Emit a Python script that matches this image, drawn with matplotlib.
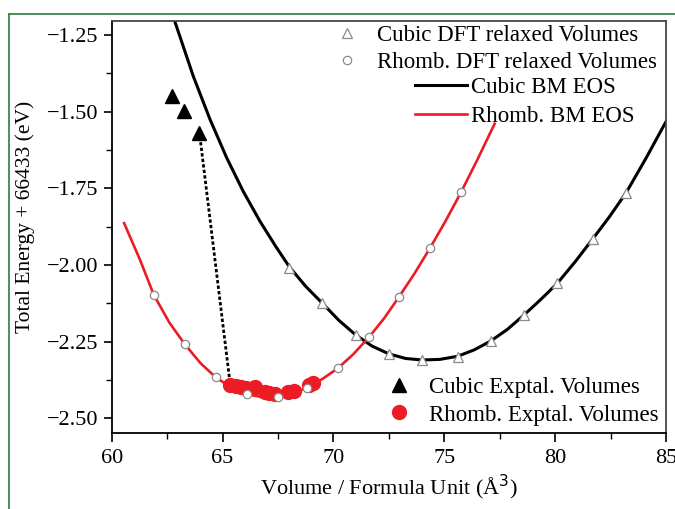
import matplotlib
matplotlib.use("Agg")
import matplotlib.pyplot as plt
from matplotlib.ticker import MultipleLocator, FuncFormatter
from matplotlib.lines import Line2D

plt.rcParams['font.family'] = ['Liberation Serif', 'DejaVu Serif']
plt.rcParams['axes.unicode_minus'] = False

# ---- data ----
cubic_dft_V = [68.0, 69.5, 71.0, 72.5, 74.0, 75.6, 77.1, 78.6, 80.1, 81.7, 83.2]
cubic_dft_E = [-2.011, -2.125, -2.23, -2.29, -2.31, -2.30, -2.248, -2.163, -2.06, -1.915, -1.765]

rhomb_dft_V = [61.9, 63.3, 64.7, 66.1, 67.5, 68.8, 70.2, 71.6, 72.95, 74.35, 75.75]
rhomb_dft_E = [-2.098, -2.259, -2.367, -2.422, -2.431, -2.40, -2.337, -2.236, -2.105, -1.946, -1.764]

cubic_eos_V = [62.85, 63.68, 64.43, 65.18, 65.93, 66.68, 67.4, 68.0, 68.75, 69.5, 70.25,
               71.0, 71.75, 72.5, 73.25, 74.0, 74.8, 75.6, 76.35, 77.1, 77.85, 78.6,
               79.35, 80.1, 80.9, 81.7, 82.45, 83.2, 84.1, 85.0]
cubic_eos_E = [-1.207, -1.385, -1.525, -1.650, -1.760, -1.857, -1.940, -2.005, -2.070,
               -2.125, -2.181, -2.228, -2.265, -2.290, -2.305, -2.310, -2.308, -2.298,
               -2.277, -2.248, -2.210, -2.163, -2.113, -2.060, -1.990, -1.915, -1.843,
               -1.765, -1.652, -1.533]

rhomb_eos_V = [60.56, 61.28, 61.9, 62.6, 63.3, 64.0, 64.7, 65.4, 66.1, 66.8, 67.5, 68.15,
               68.8, 69.5, 70.2, 70.9, 71.6, 72.3, 72.95, 73.65, 74.35, 75.05, 75.75,
               76.5, 77.27]
rhomb_eos_E = [-1.864, -1.984, -2.098, -2.188, -2.259, -2.320, -2.367, -2.400, -2.422,
               -2.431, -2.431, -2.420, -2.400, -2.372, -2.337, -2.291, -2.236, -2.173,
               -2.105, -2.029, -1.946, -1.858, -1.764, -1.656, -1.540]

cubic_exp_V = [62.7, 63.25, 63.95]
cubic_exp_E = [-1.449, -1.498, -1.571]

rhomb_exp_V = [65.35, 65.6, 65.85, 66.05, 66.45, 66.9, 67.1, 67.35, 67.95, 68.2, 68.9, 69.1]
rhomb_exp_E = [-2.392, -2.395, -2.398, -2.402, -2.398, -2.413, -2.418, -2.42, -2.415, -2.41,
               -2.39, -2.384]

link_V = [63.98, 65.33]
link_E = [-1.582, -2.381]

xticks = [60, 65, 70, 75, 80, 85]
yticks = [-2.50, -2.25, -2.00, -1.75, -1.50, -1.25]

W, H = 675, 509
fig = plt.figure(figsize=(W / 100, H / 100), dpi=100)
ax = fig.add_axes([111.7 / W, 1 - 432.7 / H, (666 - 111.7) / W, (432.7 - 21) / H])

red = '#ec1c24'
ax.plot(cubic_eos_V, cubic_eos_E, color='black', lw=2.2, zorder=2, label='Cubic BM EOS')
ax.plot(rhomb_eos_V, rhomb_eos_E, color=red, lw=1.9, zorder=2, label='Rhomb. BM EOS')
ax.plot(link_V, link_E, color='black', lw=2.0, ls=(0, (1.2, 0.8)), zorder=3)
ax.plot(cubic_exp_V, cubic_exp_E, ls='none', marker='^', ms=10, color='black', zorder=4,
        label='Cubic Exptal. Volumes')
ax.plot(rhomb_exp_V, rhomb_exp_E, ls='none', marker='o', ms=10, color=red, mec=red, zorder=4,
        label='Rhomb. Exptal. Volumes')
ax.plot(cubic_dft_V, cubic_dft_E, ls='none', marker='^', ms=7, mfc='white', mec='#8a8a8a',
        mew=0.9, zorder=5, label='Cubic DFT relaxed Volumes')
ax.plot(rhomb_dft_V, rhomb_dft_E, ls='none', marker='o', ms=6, mfc='white', mec='#8a8a8a',
        mew=0.9, zorder=5, label='Rhomb. DFT relaxed Volumes')

ax.set_xlim(60, 85)
ax.set_ylim(-2.547, -1.205)
ax.set_xticks(xticks)
ax.set_yticks(yticks)
ax.xaxis.set_minor_locator(MultipleLocator(2.5))
ax.yaxis.set_minor_locator(MultipleLocator(0.125))
ax.yaxis.set_major_formatter(FuncFormatter(lambda v, p: ('\u2212%.2f' % abs(v)) if v < 0 else '%.2f' % v))
ax.tick_params(which='major', direction='out', length=6.5, width=1.2, labelsize=16, pad=5)
ax.tick_params(axis='y', which='major', length=6, pad=3.5)
ax.tick_params(which='minor', direction='out', length=4, width=1.0)
for s in ax.spines.values():
    s.set_linewidth(1.3)
ax.spines['top'].set_color('#444444')
ax.spines['right'].set_color('#444444')

ax.set_xlabel('Volume / Formula Unit (Å$^3$)', fontsize=16, labelpad=4)
ax.set_ylabel('Total Energy + 66433 (eV)', fontsize=15.5)
ax.yaxis.set_label_coords(-0.138, 0.524)

h, l = ax.get_legend_handles_labels()
hd = dict(zip(l, h))

def fx(px):
    return px / W

def fy(py):
    return 1 - py / H

leg1 = fig.legend([hd['Cubic DFT relaxed Volumes'], hd['Rhomb. DFT relaxed Volumes']],
                  ['Cubic DFT relaxed Volumes', 'Rhomb. DFT relaxed Volumes'],
                  loc='upper left', bbox_to_anchor=(fx(328.9), fy(25)), frameon=False,
                  fontsize=16.5, borderpad=0, borderaxespad=0, handlelength=1.6,
                  handletextpad=0.5, labelspacing=0.25)
leg2 = fig.legend([hd['Cubic BM EOS'], hd['Rhomb. BM EOS']],
                  ['Cubic BM EOS', 'Rhomb. BM EOS'],
                  loc='upper left', bbox_to_anchor=(fx(415), fy(77)), frameon=False,
                  fontsize=16.5, borderpad=0, borderaxespad=0, handlelength=2.25,
                  handletextpad=0.2, labelspacing=0.33)
leg3 = fig.legend([hd['Cubic Exptal. Volumes'], hd['Rhomb. Exptal. Volumes']],
                  ['Cubic Exptal. Volumes', 'Rhomb. Exptal. Volumes'],
                  loc='upper left', bbox_to_anchor=(fx(380.5), fy(377)), frameon=False,
                  fontsize=16.5, borderpad=0, borderaxespad=0, handlelength=1.6,
                  handletextpad=0.5, labelspacing=0.28)

green = '#2e7d3a'
fig.add_artist(Line2D([fx(9), 1], [fy(14), fy(14)], color=green, lw=1.2))
fig.add_artist(Line2D([fx(9), fx(9)], [0, fy(14)], color=green, lw=1.2))

fig.savefig('out.png', dpi=100)
